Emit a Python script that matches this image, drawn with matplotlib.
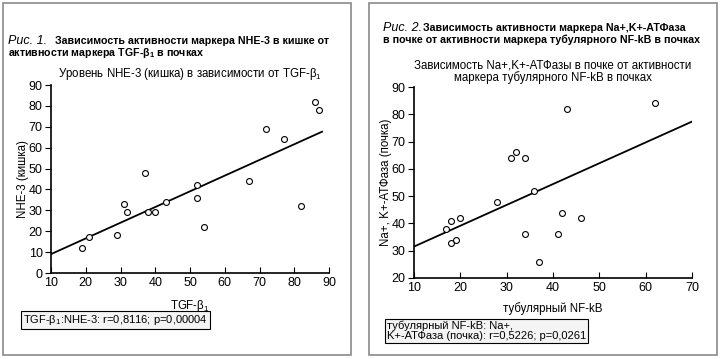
import numpy as np
import matplotlib.pyplot as plt

plt.rcParams['font.family'] = ['Liberation Sans', 'DejaVu Sans']
plt.rcParams['mathtext.default'] = 'regular'

# Рис. 1: TGF-b1 (x) vs NHE-3 кишка (y)
tgf = [19, 21, 29, 31, 32, 37, 38, 40, 43, 52, 52, 54, 67, 72, 77, 82, 86, 87]
nhe = [12, 17, 18, 33, 29, 48, 29, 29, 34, 42, 36, 22, 44, 69, 64, 32, 82, 78]

# Рис. 2: тубулярный NF-kB (x) vs Na+,K+-АТФаза (y)
nfkb = [17, 18, 18, 19, 20, 28, 31, 32, 34, 34, 36, 37, 41, 42, 43, 46, 62]
atp = [38, 41, 33, 34, 42, 48, 64, 66, 64, 36, 52, 26, 36, 44, 82, 42, 84]

W, H = 720, 359
fig = plt.figure(figsize=(7.2, 3.59), dpi=100)


def fx(px):
    return px / W


def fy(py):
    return 1 - py / H


def frame(x0, x1, y0, y1):
    r = plt.Rectangle((fx(x0), fy(y1)), fx(x1 - x0), fy(y0) - fy(y1),
                      transform=fig.transFigure, fill=False,
                      edgecolor='#8a8a8a', lw=1.2)
    fig.add_artist(r)


def scatter_panel(rect, x, y, xlim, ylim, xticks, yticks, line_x):
    ax = fig.add_axes(rect)
    ax.scatter(x, y, s=18, facecolors='white', edgecolors='black', lw=0.8, zorder=3)
    k, b = np.polyfit(x, y, 1)
    lx = np.array(line_x)
    ax.plot(lx, k * lx + b, color='black', lw=1.3)
    ax.set_xlim(*xlim)
    ax.set_ylim(*ylim)
    ax.set_xticks(xticks)
    ax.set_yticks(yticks)
    for s in ['top', 'right']:
        ax.spines[s].set_visible(False)
    for s in ['left', 'bottom']:
        ax.spines[s].set_linewidth(1.2)
    ax.tick_params(axis='x', direction='in', length=4, labelsize=9, pad=3)
    ax.tick_params(axis='y', direction='out', length=4, labelsize=9, pad=2)
    return ax


TS = 7.7

# ---- panel 1
frame(3, 351, 3, 355)
fig.text(fx(8), fy(44), 'Рис. 1.', style='italic', fontsize=9, va='baseline')
fig.text(fx(55), fy(44), 'Зависимость активности маркера NHE-3 в кишке от',
         weight='bold', fontsize=TS, va='baseline')
fig.text(fx(8), fy(56), 'активности маркера TGF-β$_1$ в почках',
         weight='bold', fontsize=TS, va='baseline')

ax1 = scatter_panel([fx(51), fy(273), fx(329 - 51), fy(85) - fy(273)],
                    tgf, nhe, (10, 90), (0, 90),
                    range(10, 91, 10), range(0, 91, 10), [10, 88])
ax1.set_title('Уровень NHE-3 (кишка) в зависимости от TGF-β$_1$', fontsize=8.3, pad=6)
ax1.set_xlabel('TGF-β$_1$', fontsize=8.3, labelpad=6)
ax1.set_ylabel('NHE-3 (кишка)', fontsize=8.3, labelpad=0)
fig.text(fx(23), fy(320), 'TGF-β$_1$:NHE-3: r=0,8116; p=0,00004', fontsize=8,
         va='center', ha='left',
         bbox=dict(boxstyle='square,pad=0.2', facecolor='#f4f4f4', edgecolor='black', lw=0.8))

# ---- panel 2
frame(369, 717, 3, 355)
fig.text(fx(383), fy(31), 'Рис. 2.', style='italic', fontsize=9, va='baseline')
fig.text(fx(423), fy(31), 'Зависимость активности маркера Na+,K+-АТФаза',
         weight='bold', fontsize=TS, va='baseline')
fig.text(fx(383), fy(43), 'в почке от активности маркера тубулярного NF-kB в почках',
         weight='bold', fontsize=TS, va='baseline')

ax2 = scatter_panel([fx(414), fy(278), fx(692 - 414), fy(87) - fy(278)],
                    nfkb, atp, (10, 70), (20, 90),
                    range(10, 71, 10), range(20, 91, 10), [10, 70])
ax2.set_title('Зависимость Na+,K+-АТФазы в почке от активности\nмаркера тубулярного NF-kB в почках',
              fontsize=8.3, pad=4, linespacing=1.0)
ax2.set_xlabel('тубулярный NF-kB', fontsize=8.3, labelpad=6)
ax2.set_ylabel('Na+, K+-АТФаза (почка)', fontsize=8.3, labelpad=0)
fig.text(fx(387), fy(331), 'тубулярный NF-kB: Na+,\nK+-АТФаза (почка): r=0,5226; p=0,0261',
         fontsize=8, va='center', ha='left', linespacing=1.0,
         bbox=dict(boxstyle='square,pad=0.2', facecolor='#f4f4f4', edgecolor='black', lw=0.8))

fig.savefig('out.png', dpi=100)
